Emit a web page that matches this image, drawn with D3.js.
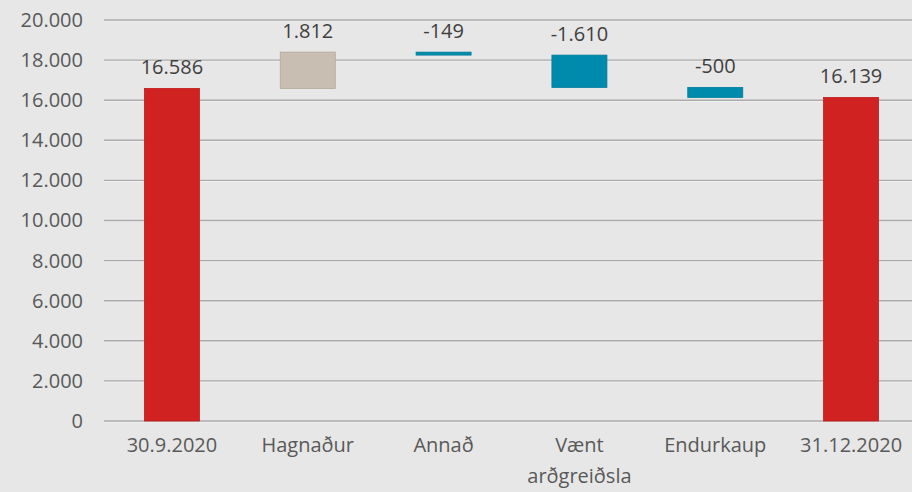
<!DOCTYPE html>
<html>
<head>
<meta charset="utf-8">
<script src="https://cdn.jsdelivr.net/npm/d3@7"></script>
<style>
  html, body { margin: 0; padding: 0; background: #e7e7e7; }
  svg { display: block; }
</style>
</head>
<body>
<svg id="chart" width="912" height="492"></svg>
<script>
const categories = ["30.9.2020", "Hagnaður", "Annað", "Vænt arðgreiðsla", "Endurkaup", "31.12.2020"];
const categoryLines = [["30.9.2020"], ["Hagnaður"], ["Annað"], ["Vænt", "arðgreiðsla"], ["Endurkaup"], ["31.12.2020"]];
const values = [16586, 1812, -149, -1610, -500, 16139];
const kinds = ["total", "increase", "decrease", "decrease", "decrease", "total"];
const yTicks = [0, 2000, 4000, 6000, 8000, 10000, 12000, 14000, 16000, 18000, 20000];

const colors = { total: "#d02220", increase: "#c8bfb2", decrease: "#008aac" };
const strokes = { total: "#c01c1b", increase: "#b3a898", decrease: "#007d9c" };

const W = 912, H = 492;
const svg = d3.select("#chart");
svg.append("rect").attr("width", W).attr("height", H).attr("fill", "#e7e7e7");

const loc = d3.formatLocale({ decimal: ",", thousands: ".", grouping: [3], currency: ["", ""], minus: "-" });
const fmt = loc.format(",d");

const y = d3.scaleLinear().domain([0, 20000]).range([421, 20]);
const x = d3.scaleBand().domain(categories).range([104, 919]).paddingInner(0.595).paddingOuter(0.2975);

// compute waterfall
let running = 0;
const bars = categories.map((c, i) => {
  let y0, y1;
  if (kinds[i] === "total") { y0 = 0; y1 = values[i]; running = values[i]; }
  else { y0 = running; y1 = running + values[i]; running = y1; }
  return { cat: c, v: values[i], kind: kinds[i], lo: Math.min(y0, y1), hi: Math.max(y0, y1), lines: categoryLines[i] };
});

// gridlines
const grid = svg.append("g");
yTicks.forEach(t => {
  grid.append("line").attr("x1", 104).attr("x2", W).attr("y1", y(t) + 1).attr("y2", y(t) + 1)
    .attr("stroke", "#f2f2f2").attr("stroke-width", 1);
  grid.append("line").attr("x1", 104).attr("x2", W).attr("y1", y(t)).attr("y2", y(t))
    .attr("stroke", "#ababab").attr("stroke-width", 1.4);
});

// y axis labels
const yAxis = d3.axisLeft(y).tickValues(yTicks).tickFormat(d => fmt(d)).tickSize(0).tickPadding(0);
const gy = svg.append("g").attr("transform", "translate(83,0)").call(yAxis);
gy.select(".domain").remove();
gy.selectAll("text").attr("fill", "#595959").style("font-family", "'Open Sans', sans-serif").style("font-size", "20px");

// bars
svg.append("g").selectAll("rect").data(bars).join("rect")
  .attr("x", d => x(d.cat))
  .attr("width", x.bandwidth())
  .attr("y", d => y(d.hi))
  .attr("height", d => Math.max(1, y(d.lo) - y(d.hi)))
  .attr("fill", d => colors[d.kind])
  .attr("stroke", d => strokes[d.kind])
  .attr("stroke-width", 0.8);

// value labels
svg.append("g").selectAll("text").data(bars).join("text")
  .attr("x", d => x(d.cat) + x.bandwidth() / 2)
  .attr("y", d => y(d.hi) - 14)
  .attr("text-anchor", "middle")
  .attr("fill", "#404040")
  .style("font-family", "'Open Sans', sans-serif")
  .style("font-size", "20px")
  .text(d => fmt(d.v));

// category labels
const gx = svg.append("g");
bars.forEach(d => {
  const t = gx.append("text")
    .attr("x", x(d.cat) + x.bandwidth() / 2)
    .attr("y", 452)
    .attr("text-anchor", "middle")
    .attr("fill", "#595959")
    .style("font-family", "'Open Sans', sans-serif")
    .style("font-size", "20px");
  d.lines.forEach((ln, j) => {
    t.append("tspan").attr("x", x(d.cat) + x.bandwidth() / 2).attr("dy", j === 0 ? 0 : 31).text(ln);
  });
});
</script>
</body>
</html>
